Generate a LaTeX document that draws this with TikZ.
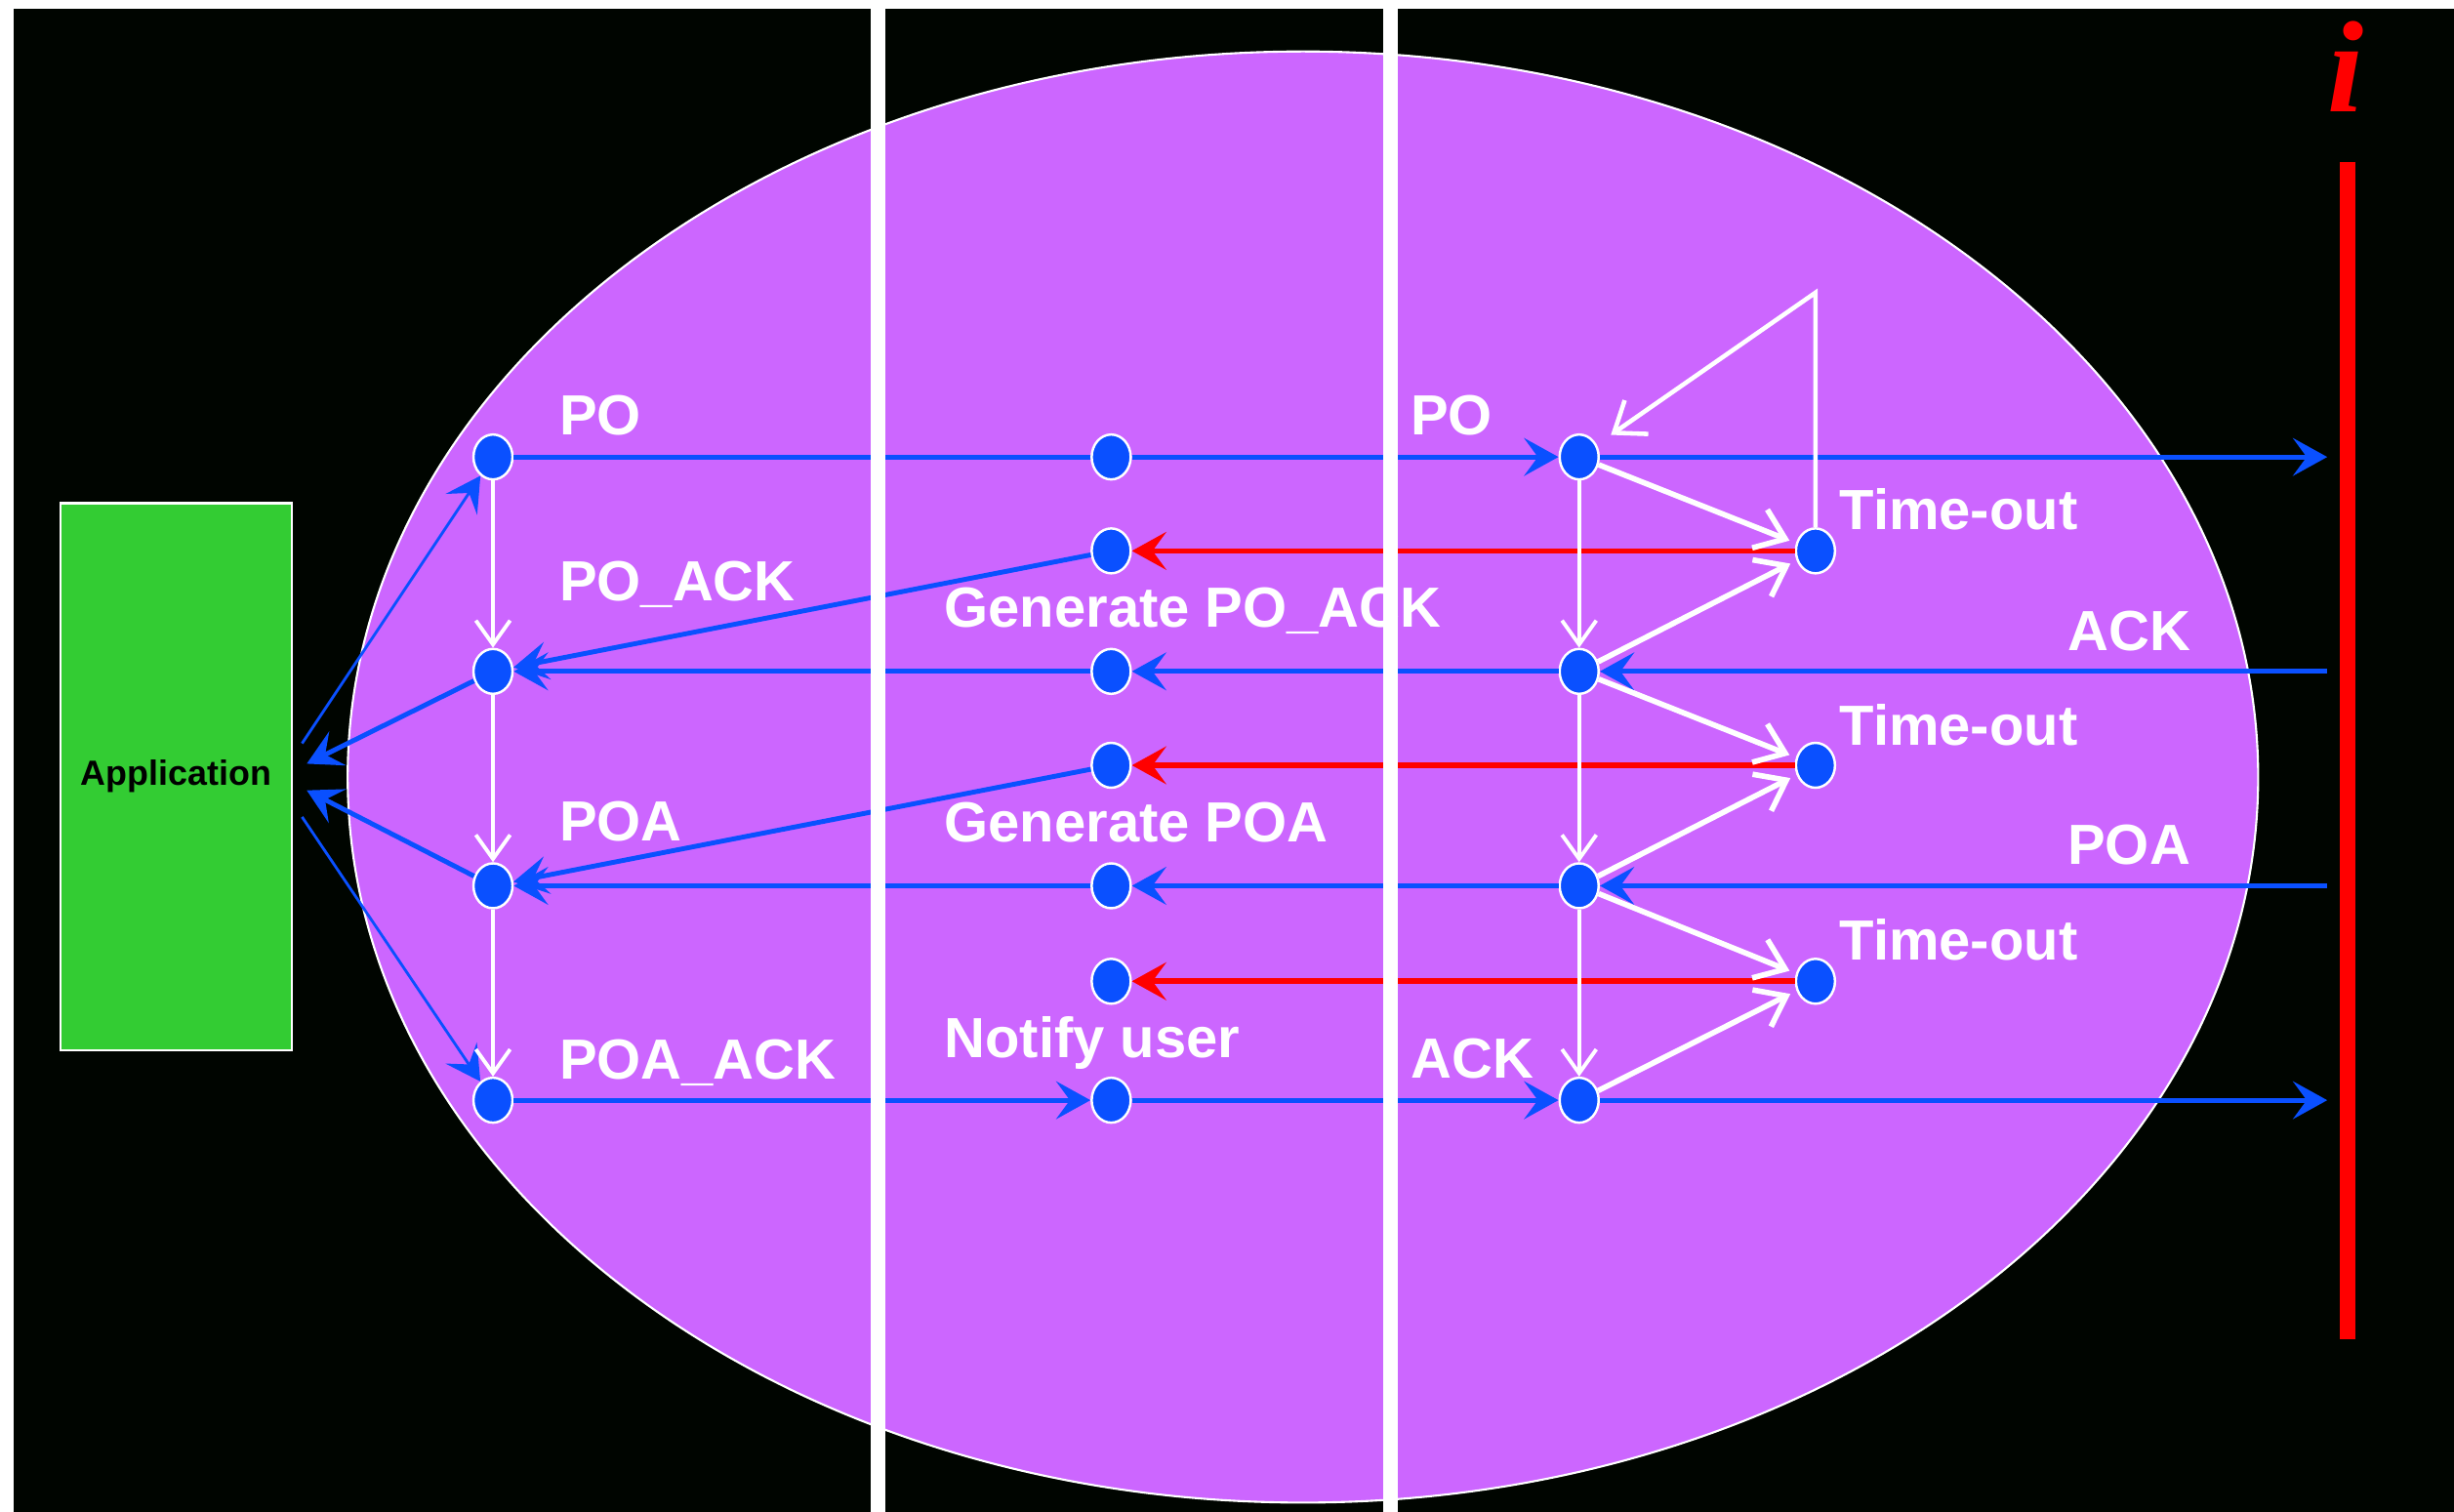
\documentclass[tikz,border=0pt]{standalone}
\usepackage{fontspec}
\setmainfont{Liberation Sans}
\newfontfamily\serifit{Liberation Serif}
\usetikzlibrary{arrows.meta, shapes.geometric, positioning}
\definecolor{night}{RGB}{0,5,0}
\definecolor{lilac}{RGB}{204,102,255}
\definecolor{msgblue}{RGB}{10,80,255}
\definecolor{appgreen}{RGB}{51,204,51}
\definecolor{alarm}{RGB}{255,0,0}
\tikzset{>={Stealth[length=10pt,width=11pt,inset=4pt]},
dot/.style={ellipse, fill=msgblue, draw=white, line width=0.7pt, minimum width=0.4cm, minimum height=0.46cm, inner sep=0pt},
msg/.style={msgblue, line width=1.4pt, ->},
feed/.style={msgblue, line width=0.8pt, ->},
resend/.style={alarm, line width=1.6pt, ->},
tick/.style={white, line width=1.1pt, -{Straight Barb[length=7pt,width=10pt]}},
timer/.style={white, line width=1.6pt, -{Straight Barb[length=8pt,width=12pt]}},
tag/.style={text=white, font=\fontsize{16.5}{18}\selectfont\bfseries, anchor=base west, inner sep=0pt},
}

\begin{document}
\begin{tikzpicture}[x=0.016033cm, y=-0.016033cm]
    \useasboundingbox (0,0) rectangle (1568,966);
    \fill[white] (0,0) rectangle (1568,966);
    \fill[night] (8.7,5.6) rectangle (1568,966);
    \filldraw[fill=lilac, draw=white, line width=0.6pt] (832.5,496.5) ellipse [x radius=9.788cm, y radius=7.435cm];

    \node[draw=white, fill=appgreen, line width=0.8pt, minimum width=2.37cm, minimum height=5.61cm,
          font=\fontsize{10.2}{12}\selectfont\bfseries] (app) at (112.6,496.2) {Application};
    \draw[alarm, line width=4.3pt] (1500,103.5) -- (1500,855.7);
    \node[text=alarm, font=\serifit\bfseries\itshape\fontsize{38}{40}\selectfont, anchor=base, inner sep=0pt] (inst) at (1499,71.7) {i};

    \node[dot] (A1) at (315,292) {};
    \node[dot] (A3) at (315,429) {};
    \node[dot] (A5) at (315,566) {};
    \node[dot] (A7) at (315,703) {};
    \node[dot] (B1) at (710,292) {};
    \node[dot] (B2) at (710,352) {};
    \node[dot] (B3) at (710,429) {};
    \node[dot] (B4) at (710,489) {};
    \node[dot] (B5) at (710,566) {};
    \node[dot] (B6) at (710,627) {};
    \node[dot] (B7) at (710,703) {};
    \node[dot] (C1) at (1009,292) {};
    \node[dot] (C3) at (1009,429) {};
    \node[dot] (C5) at (1009,566) {};
    \node[dot] (C7) at (1009,703) {};
    \node[dot] (D2) at (1160,352) {};
    \node[dot] (D4) at (1160,489) {};
    \node[dot] (D6) at (1160,627) {};

    \coordinate (out1) at (1487,292);
    \coordinate (in3) at (1487,429);
    \coordinate (in5) at (1487,566);
    \coordinate (out7) at (1487,703);
    \coordinate (peak) at (1160,187);
    \coordinate (appA) at (193,475);
    \coordinate (appB) at (196,488);
    \coordinate (appC) at (196,505);
    \coordinate (appD) at (193,522);

    \path[msg]
    (A1) edge[-] (B1)
    (B1) edge (C1)
    (C1) edge (out1)
    (in3) edge (C3)
    (C3) edge (B3)
    (B3) edge (A3)
    (B2) edge (A3)
    (in5) edge (C5)
    (C5) edge (B5)
    (B5) edge (A5)
    (B4) edge (A5)
    (A7) edge (B7)
    (B7) edge (C7)
    (C7) edge (out7)
    (A3) edge (appB)
    (A5) edge (appC)
    ;
    \path[feed]
    (appA) edge (A1)
    (appD) edge (A7)
    ;
    \path[resend]
    (D2) edge (B2)
    (D4) edge (B4)
    (D6) edge (B6)
    ;
    \path[tick]
    (A1) edge (A3)
    (A3) edge (A5)
    (A5) edge (A7)
    (C1) edge (C3)
    (C3) edge (C5)
    (C5) edge (C7)
    ;
    \path[timer, shorten >=2pt]
    (C1) edge (D2)
    (C3) edge (D2)
    (C3) edge (D4)
    (C5) edge (D4)
    (C5) edge (D6)
    (C7) edge (D6)
    ;
    \draw[timer, line width=1.3pt, shorten >=5pt] (D2) -- (peak) -- (C1);

    \node[tag] (poL) at (357,278) {PO};
    \node[tag] (poR) at (901,278) {PO};
    \node[tag] (tout1) at (1175,338.6) {Time-out};
    \node[tag] (poackL) at (357,384) {PO\_ACK};
    \node[tag] (genpoack) at (603,401) {Generate PO\_ACK};
    \node[tag, anchor=base east] (ackR) at (1400,415.4) {ACK};
    \node[tag] (tout2) at (1175,476) {Time-out};
    \node[tag] (poaL) at (357,537.6) {POA};
    \node[tag] (genpoa) at (603,538) {Generate POA};
    \node[tag, anchor=base east] (poaR) at (1400,552.6) {POA};
    \node[tag] (tout3) at (1175,613.5) {Time-out};
    \node[tag] (notify) at (603,676) {Notify user};
    \node[tag] (poaackL) at (357,689.5) {POA\_ACK};
    \node[tag] (ackL) at (901,689) {ACK};

    \draw[white, line width=4.3pt] (561,0) -- (561,966);
    \draw[white, line width=4.3pt] (888.2,0) -- (888.2,966);
\end{tikzpicture}
\end{document}
